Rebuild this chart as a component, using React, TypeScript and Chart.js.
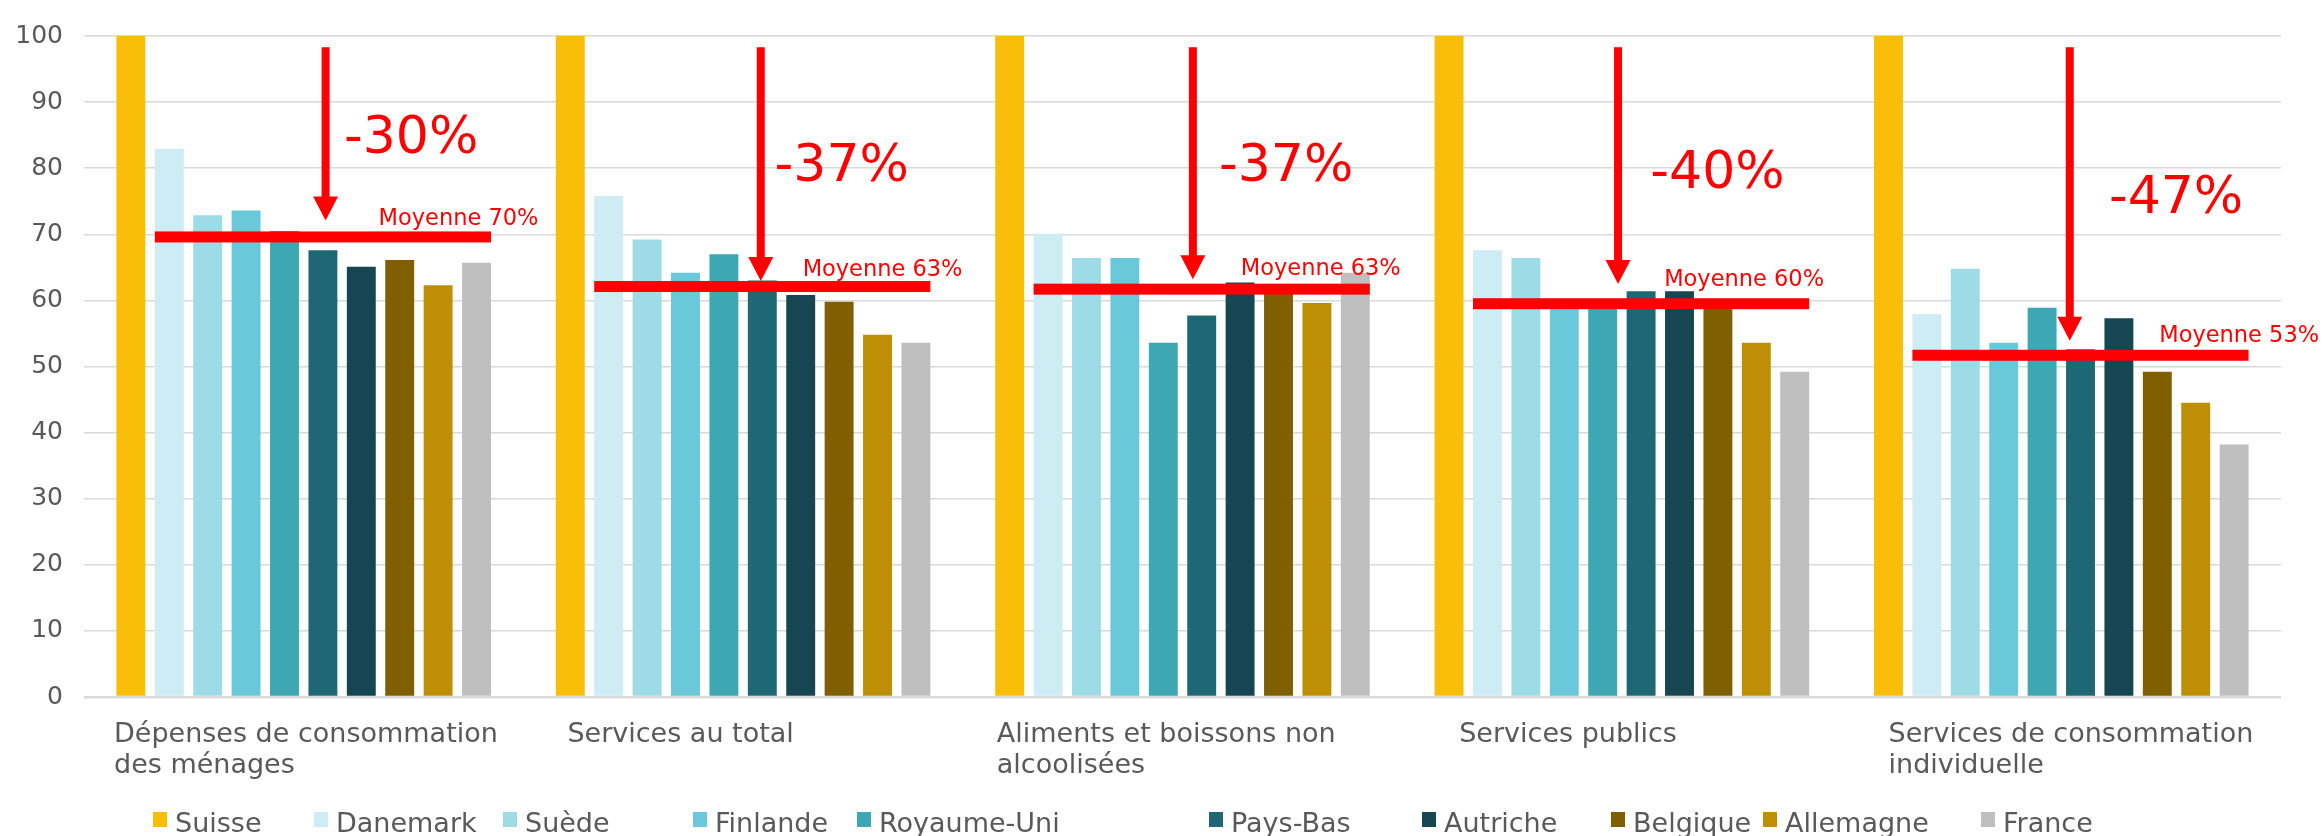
import React, { useEffect, useRef } from "react";
import { Chart, registerables } from "chart.js";

Chart.register(...registerables);

// ---------- data ----------
const categories: string[][] = [
  ["Dépenses de consommation", "des ménages"],
  ["Services au total"],
  ["Aliments et boissons non", "alcoolisées"],
  ["Services publics"],
  ["Services de consommation", "individuelle"],
];

const countries = [
  "Suisse",
  "Danemark",
  "Suède",
  "Finlande",
  "Royaume-Uni",
  "Pays-Bas",
  "Autriche",
  "Belgique",
  "Allemagne",
  "France",
];

const suisse = [100, 100, 100, 100, 100];
const danemark = [82.9, 75.8, 70.1, 67.6, 57.9];
const suede = [72.9, 69.2, 66.4, 66.4, 64.8];
const finlande = [73.6, 64.2, 66.4, 59.5, 53.6];
const royaumeUni = [70.5, 67.0, 53.6, 59.5, 58.9];
const paysBas = [67.6, 63.0, 57.7, 61.4, 52.6];
const autriche = [65.1, 60.8, 62.7, 61.4, 57.3];
const belgique = [66.1, 59.8, 62.0, 59.5, 49.2];
const allemagne = [62.3, 54.8, 59.6, 53.6, 44.5];
const france = [65.7, 53.6, 64.2, 49.2, 38.2];

const seriesValues = [suisse, danemark, suede, finlande, royaumeUni, paysBas, autriche, belgique, allemagne, france];

const yTicks = [0, 10, 20, 30, 40, 50, 60, 70, 80, 90, 100];

// annotations (values on the y scale)
const averageLevels = [69.6, 62.1, 61.7, 59.5, 51.7];
const averageLabels = ["Moyenne 70%", "Moyenne 63%", "Moyenne 63%", "Moyenne 60%", "Moyenne 53%"];
const averageLabelLevels = [72.6, 64.9, 65.1, 63.4, 54.9];
const gapLabels = ["-30%", "-37%", "-37%", "-40%", "-47%"];
const gapLabelLevels = [85.2, 80.9, 80.9, 79.9, 76.1];
const arrowStart = 98.3;
const arrowEnds = [72.1, 62.95, 63.2, 62.5, 53.9];

// ---------- styles / layout ----------
const seriesColors = [
  "#F9BE08",
  "#CDECF3",
  "#9DDCE7",
  "#69C8D9",
  "#3DA7B4",
  "#1E6875",
  "#154652",
  "#7F5F00",
  "#BE8F05",
  "#BFBFBF",
];
const RED = "#FF0000";
const TEXT = "#595959";
const FONT = "'DejaVu Sans', Verdana, sans-serif";

// horizontal offsets in bar-slot units measured from the first bar's centre
const arrowSlots = [5.07, 4.96, 4.77, 4.4, 4.72];
const gapLabelSlots = [5.55, 5.32, 5.45, 5.24, 5.74];
const averageLabelSlots = [6.45, 6.05, 6.02, 5.6, 7.05];
// category label left offsets (px from category start)
const categoryLabelOffsets = [30, 44, 34, 57, 47];
// legend marker left positions (px)
const legendX = [153, 314, 503, 693, 857, 1209, 1422, 1611, 1763, 1981];

const annotationPlugin = {
  id: "customAnnotations",
  afterDatasetsDraw(chart: any) {
    const ctx = chart.ctx as CanvasRenderingContext2D;
    const y = chart.scales.y;
    const metas = countries.map((_, d) => chart.getDatasetMeta(d));
    ctx.save();
    for (let i = 0; i < categories.length; i++) {
      const b0: any = metas[0].data[i];
      const b1: any = metas[1].data[i];
      const b9: any = metas[9].data[i];
      const pitch = b1.x - b0.x;

      // average line
      const yAvg = y.getPixelForValue(averageLevels[i]);
      const xl = b1.x - b1.width / 2;
      const xr = b9.x + b9.width / 2;
      ctx.fillStyle = RED;
      ctx.fillRect(xl, yAvg - 5.5, xr - xl, 11);

      // arrow
      const ax = b0.x + arrowSlots[i] * pitch;
      const yTop = y.getPixelForValue(arrowStart);
      const yTip = y.getPixelForValue(arrowEnds[i]);
      const headH = 24;
      const headW = 25;
      const shaft = 8;
      ctx.fillRect(ax - shaft / 2, yTop, shaft, yTip - headH - yTop + 1);
      ctx.beginPath();
      ctx.moveTo(ax - headW / 2, yTip - headH);
      ctx.lineTo(ax + headW / 2, yTip - headH);
      ctx.lineTo(ax, yTip);
      ctx.closePath();
      ctx.fill();

      // labels
      ctx.textAlign = "left";
      ctx.textBaseline = "alphabetic";
      ctx.font = `52px ${FONT}`;
      ctx.fillText(gapLabels[i], b0.x + gapLabelSlots[i] * pitch, y.getPixelForValue(gapLabelLevels[i]) + 0.3645 * 52);
      ctx.font = `22.5px ${FONT}`;
      ctx.fillText(
        averageLabels[i],
        b0.x + averageLabelSlots[i] * pitch,
        y.getPixelForValue(averageLabelLevels[i]) + 0.3645 * 22.5
      );
    }
    ctx.restore();
  },
  afterDraw(chart: any) {
    const ctx = chart.ctx as CanvasRenderingContext2D;
    const x = chart.scales.x;
    const area = chart.chartArea;
    const catW = (area.right - area.left) / categories.length;
    ctx.save();
    ctx.fillStyle = TEXT;
    ctx.textAlign = "left";
    ctx.textBaseline = "alphabetic";
    ctx.font = `27px ${FONT}`;
    for (let i = 0; i < categories.length; i++) {
      const left = x.getPixelForValue(i) - catW / 2 + categoryLabelOffsets[i];
      categories[i].forEach((line, k) => {
        ctx.fillText(line, left, area.bottom + 44.5 + k * 31);
      });
    }
    // legend
    for (let d = 0; d < countries.length; d++) {
      ctx.fillStyle = seriesColors[d];
      ctx.fillRect(legendX[d], 812, 14, 15);
      ctx.fillStyle = TEXT;
      ctx.fillText(countries[d], legendX[d] + 22, 832);
    }
    ctx.restore();
  },
};

export default function App() {
  const ref = useRef<HTMLCanvasElement | null>(null);

  useEffect(() => {
    if (!ref.current) return;
    Chart.defaults.font.family = FONT;
    const chart = new Chart(ref.current, {
      type: "bar",
      data: {
        labels: categories.map((c) => c.join(" ")),
        datasets: countries.map((name, d) => ({
          label: name,
          data: seriesValues[d],
          backgroundColor: seriesColors[d],
          borderWidth: 0,
          categoryPercentage: 0.874,
          barPercentage: 0.753,
        })),
      },
      options: {
        responsive: false,
        animation: false,
        layout: { padding: { left: 0, right: 42, top: 25, bottom: 131 } },
        plugins: {
          legend: { display: false },
          tooltip: { enabled: false },
        },
        scales: {
          x: {
            grid: { display: false },
            border: { display: false },
            ticks: { display: false },
          },
          y: {
            min: 0,
            max: 100,
            afterBuildTicks: (scale: any) => {
              scale.ticks = yTicks.map((v) => ({ value: v }));
            },
            afterFit: (scale: any) => {
              scale.width = 84;
            },
            grid: {
              color: "#D9D9D9",
              lineWidth: (c: any) => (c.tick && c.tick.value === 0 ? 2.5 : 1.5),
              drawTicks: false,
            },
            border: { display: false },
            ticks: {
              padding: 21,
              color: TEXT,
              font: { size: 25, family: FONT },
            },
          },
        },
      },
      plugins: [annotationPlugin],
    });
    return () => chart.destroy();
  }, []);

  return (
    <div style={{ position: "absolute", left: 0, top: 0, width: 2323, height: 836, background: "#fff" }}>
      <canvas ref={ref} width={2323} height={836} style={{ display: "block" }} />
    </div>
  );
}
